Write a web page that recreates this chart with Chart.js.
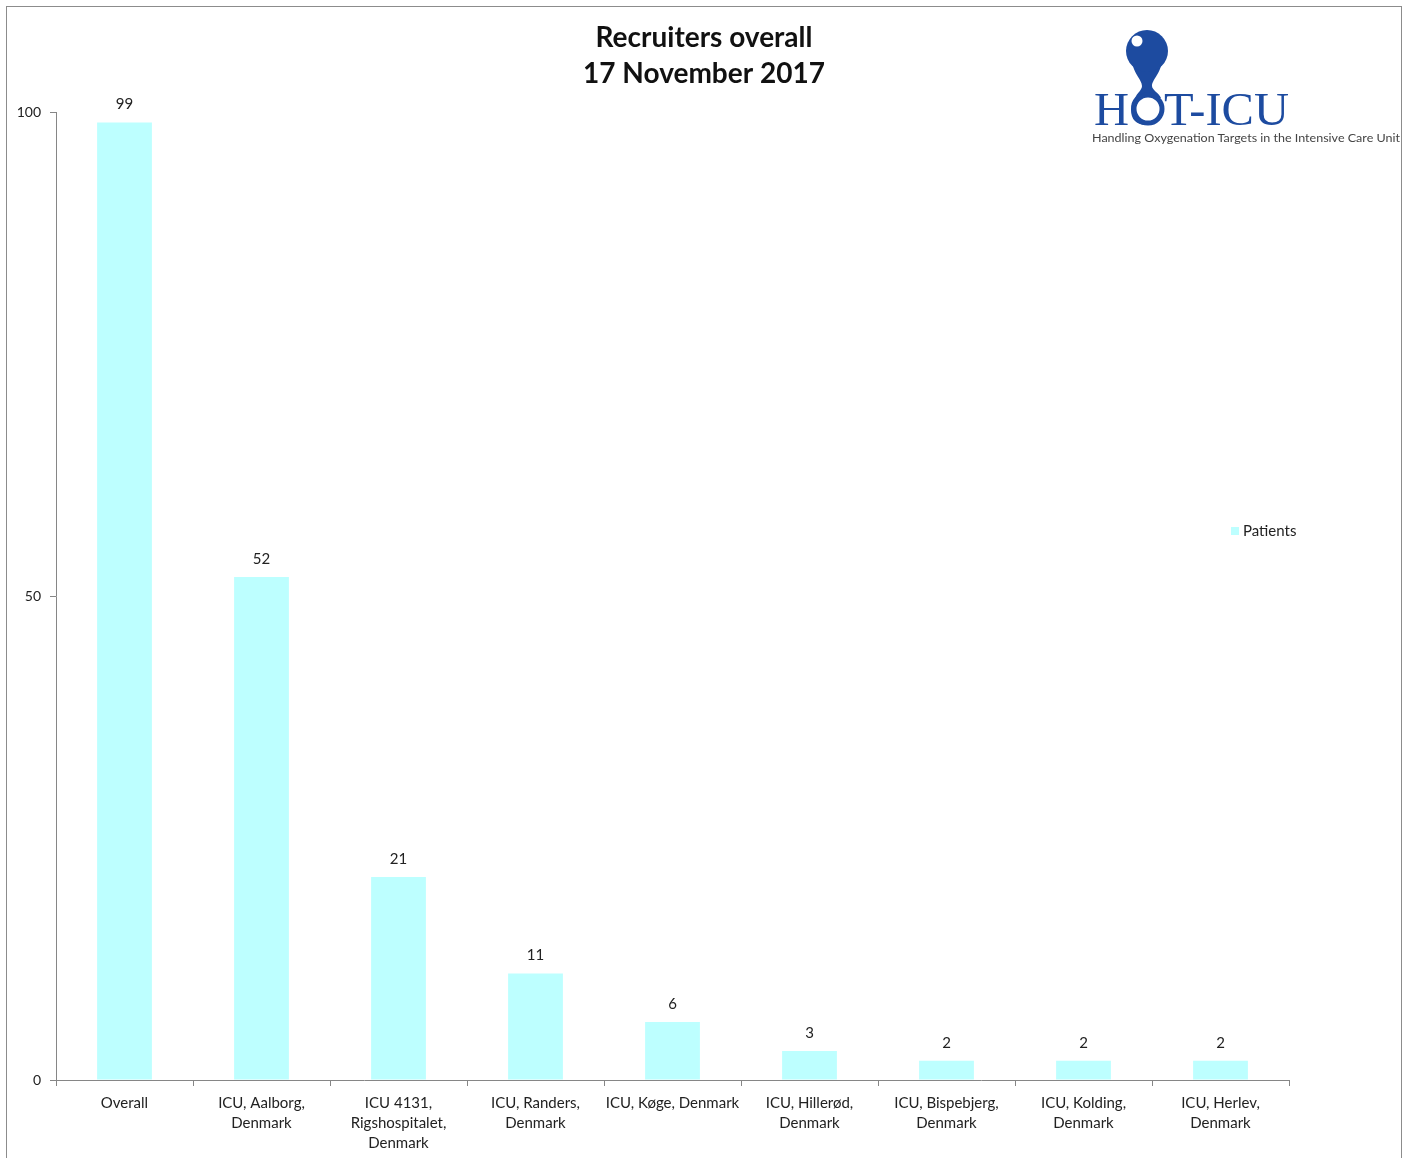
<!DOCTYPE html>
<html>
<head>
<meta charset="utf-8">
<script src="https://cdn.jsdelivr.net/npm/chart.js@4"></script>
<style>
  html, body { margin: 0; padding: 0; background: #fff; }
  body { width: 1409px; height: 1158px; position: relative; overflow: hidden; font-family: Lato, "Open Sans", sans-serif; }
  #frame { position: absolute; left: 6px; top: 6px; width: 1394px; height: 1160px; border: 1px solid #8c8c8c; }
  #wrap { position: absolute; left: 0; top: 0; width: 1394px; height: 1151px; }
  #logo { position: absolute; left: 1085px; top: 20px; }
  #legend { position: absolute; left: 1231px; top: 521px; font-size: 15px; color: #222; white-space: nowrap; }
  #legend span.box { display: inline-block; width: 8px; height: 8px; background: #bdffff; margin-right: 4px; vertical-align: 1px; }
</style>
</head>
<body>
<div id="frame">
  <div id="wrap"><canvas id="c"></canvas></div>
</div>
<svg id="logo" width="320" height="130" viewBox="0 0 320 130">
  <text x="9" y="105" font-family="'Liberation Serif', 'DejaVu Serif', serif" font-size="46" fill="#1d4ba0" textLength="195" lengthAdjust="spacingAndGlyphs">HOT-ICU</text>
  <path d="M46,40 C50,56 57,60 57,66 C57,70 52,73 50,78 L76,78 C74,73 67,70 67,66 C67,60 74,56 78,40 Z" fill="#1d4ba0"/>
  <circle cx="62" cy="31" r="21" fill="#1d4ba0"/>
  <circle cx="52" cy="21" r="5.5" fill="#fff"/>
  <circle cx="63" cy="89" r="14" fill="#fff" stroke="#1d4ba0" stroke-width="5"/>
  <text x="7" y="122" font-family="Lato, 'Open Sans', sans-serif" font-size="12" fill="#444" textLength="308" lengthAdjust="spacingAndGlyphs">Handling Oxygenation Targets in the Intensive Care Unit</text>
</svg>
<div id="legend"><span class="box"></span>Patients</div>
<script>
const titleLines = ['Recruiters overall', '17 November 2017'];
const categories = [
  ['Overall'],
  ['ICU, Aalborg,', 'Denmark'],
  ['ICU 4131,', 'Rigshospitalet,', 'Denmark'],
  ['ICU, Randers,', 'Denmark'],
  ['ICU, Køge, Denmark'],
  ['ICU, Hillerød,', 'Denmark'],
  ['ICU, Bispebjerg,', 'Denmark'],
  ['ICU, Kolding,', 'Denmark'],
  ['ICU, Herlev,', 'Denmark']
];
const patients = [99, 52, 21, 11, 6, 3, 2, 2, 2];

const FONT = 'Lato, "Open Sans", sans-serif';
const AXIS = '#868686';

// value labels above each bar
const valueLabels = {
  id: 'valueLabels',
  afterDatasetsDraw(chart) {
    const ctx = chart.ctx;
    const meta = chart.getDatasetMeta(0);
    ctx.save();
    ctx.font = '15px ' + FONT;
    ctx.fillStyle = '#222';
    ctx.textAlign = 'center';
    ctx.textBaseline = 'middle';
    meta.data.forEach((bar, i) => {
      ctx.fillText(String(patients[i]), bar.x, bar.y - 18);
    });
    ctx.restore();
  }
};

new Chart(document.getElementById('c'), {
  type: 'bar',
  data: {
    labels: categories,
    datasets: [{
      label: 'Patients',
      data: patients,
      backgroundColor: '#bdffff',
      barPercentage: 0.4,
      categoryPercentage: 1
    }]
  },
  options: {
    responsive: true,
    maintainAspectRatio: false,
    animation: false,
    plugins: {
      legend: { display: false },
      tooltip: { enabled: false },
      title: {
        display: true,
        text: titleLines,
        color: '#111',
        font: { family: FONT, size: 28, weight: 'bold', lineHeight: 1.32 },
        padding: { top: 12, bottom: 20 }
      }
    },
    scales: {
      x: {
        afterFit(scale) { scale.height = 78; },
        grid: { offset: true, drawOnChartArea: false, color: AXIS, tickLength: 6 },
        border: { color: AXIS },
        ticks: { color: '#222', font: { family: FONT, size: 15, lineHeight: 1.35 }, padding: 7, maxRotation: 0, autoSkip: false }
      },
      y: {
        min: 0,
        max: 100,
        afterFit(scale) { scale.width = 49; },
        grid: { drawOnChartArea: false, color: AXIS, tickLength: 6 },
        border: { color: AXIS },
        ticks: { stepSize: 50, color: '#222', font: { family: FONT, size: 14 }, padding: 9 }
      },
      // empty right-hand spacer so the plot ends where the reference does
      spacer: {
        position: 'right',
        min: 0,
        max: 100,
        afterFit(scale) { scale.width = 112; },
        grid: { display: false },
        border: { display: false },
        ticks: { display: false }
      }
    }
  },
  plugins: [valueLabels]
});
</script>
</body>
</html>
